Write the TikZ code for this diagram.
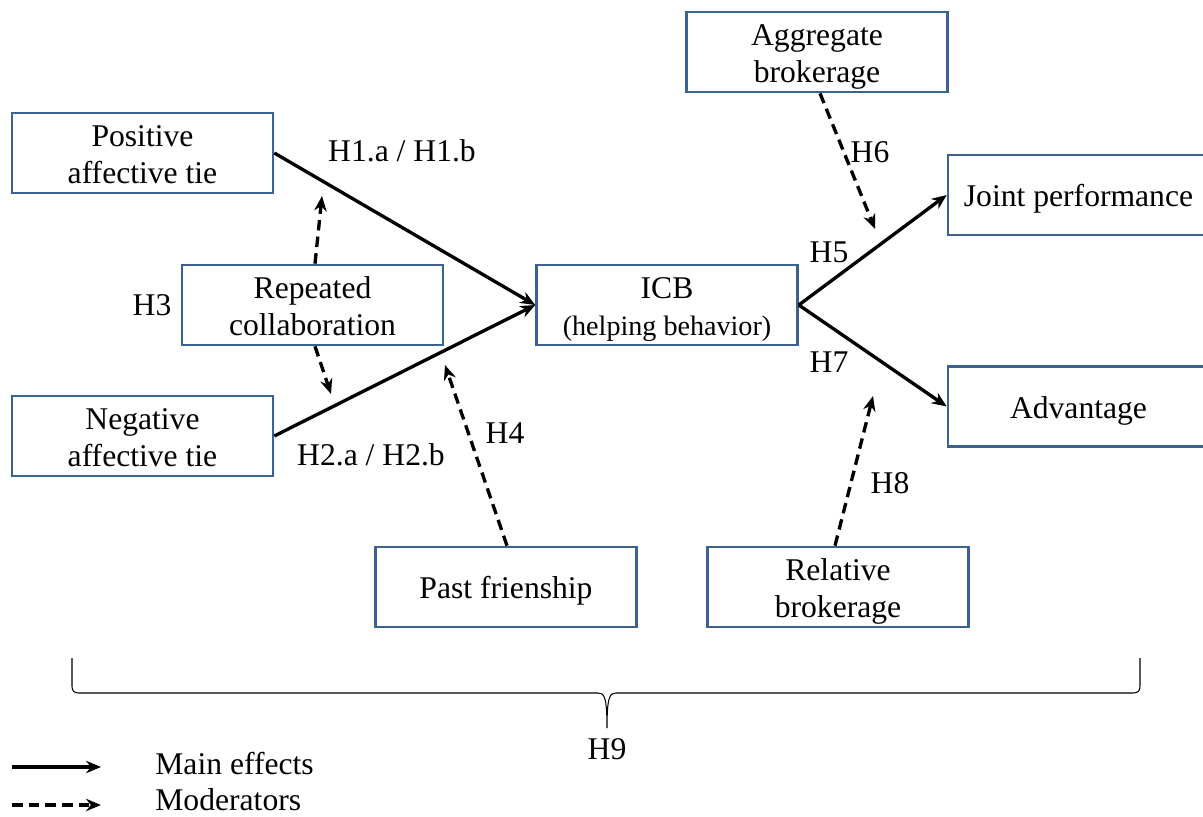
\documentclass[tikz,border=0pt]{standalone}
\usepackage{fontspec}
\setmainfont{Liberation Serif}
\usetikzlibrary{arrows.meta,calc}
\definecolor{boxblue}{RGB}{60,98,145}
\newcommand\boxtext[1]{\raisebox{-2.5pt}[\height][\depth]{\begin{tabular}{@{}c@{}}#1\end{tabular}}}

\begin{document}
\begin{tikzpicture}[x=0.02cm,y=-0.02cm,font=\fontsize{18}{21.6}\selectfont,
    var/.style={draw=boxblue,line width=1.5pt,minimum width=5.22cm,minimum height=1.6cm,inner sep=0pt},
    main/.style={line width=1.9pt,-{Stealth[length=8.5pt,width=7pt]}},
    mod/.style={main,dash pattern=on 6pt off 3.5pt},
    hyp/.style={inner sep=0pt}]
  \useasboundingbox (0,0) rectangle (1203,817);
  % variables
  \node[var] (pos)   at (142.5,153) {\boxtext{Positive\\affective tie}};
  \node[var] (rep)   at (312.5,305) {\boxtext{Repeated\\collaboration}};
  \node[var] (neg)   at (142.5,436) {\boxtext{Negative\\affective tie}};
  \node[var] (icb)   at (667,305)   {\boxtext{ICB\\{\fontsize{16}{19}\selectfont(helping behavior)}}};
  \node[var] (agg)   at (817,52)    {\boxtext{Aggregate\\brokerage}};
  \node[var] (joint) at (1078.5,195) {\boxtext{Joint performance}};
  \node[var] (adv)   at (1078.5,406.5) {\boxtext{Advantage}};
  \node[var] (past)  at (506,587)   {\boxtext{Past frienship}};
  \node[var] (rel)   at (838,587)   {\boxtext{Relative\\brokerage}};
  % main effects
  \path[main]
    (pos.east) edge (icb.west)
    (neg.east) edge (icb.west)
    (icb.east) edge (joint.west)
               edge (adv.west);
  % moderators
  \coordinate (h3a) at (322,196);
  \coordinate (h3b) at (331,394);
  \coordinate (h4)  at (445,365);
  \coordinate (h6)  at (875,229);
  \coordinate (h8)  at (873,396);
  \path[mod]
    ($(rep.north)+(2.5,0)$)  edge (h3a)
    ($(rep.south)+(2.5,0)$)  edge (h3b)
    ($(past.north)+(1,0)$)   edge (h4)
    ($(agg.south)+(3,0)$)    edge (h6)
    ($(rel.north)+(-3,0)$)   edge (h8);
  % hypotheses
  \node[hyp] (lh1) at (402,151) {H1.a / H1.b};
  \node[hyp] (lh2) at (371,455) {H2.a / H2.b};
  \node[hyp] (lh3) at (152,305) {H3};
  \node[hyp] (lh4) at (505,433) {H4};
  \node[hyp] (lh5) at (829,252) {H5};
  \node[hyp] (lh6) at (870,152) {H6};
  \node[hyp] (lh7) at (829,362) {H7};
  \node[hyp] (lh8) at (890,483) {H8};
  % H9 brace
  \draw[line width=0.6pt] (72,658) -- (72,686) .. controls (72,691) and (74,693) .. (79,693)
    -- (598,693) .. controls (604,693) and (607,696) .. (607,728)
    .. controls (607,696) and (610,693) .. (616,693) -- (1133,693)
    .. controls (1138,693) and (1140,691) .. (1140,686) -- (1140,658);
  \node[hyp] (lh9) at (607,749) {H9};
  % legend
  \coordinate (lga) at (12,767);
  \coordinate (lgb) at (101,767);
  \coordinate (lgc) at (12,805);
  \coordinate (lgd) at (101,805);
  \draw[main] (lga) -- (lgb);
  \draw[mod] (lgc) -- (lgd);
  \node[hyp,anchor=west] (lgmain) at (155,764) {Main effects};
  \node[hyp,anchor=west] (lgmod)  at (155,800) {Moderators};
\end{tikzpicture}
\end{document}
